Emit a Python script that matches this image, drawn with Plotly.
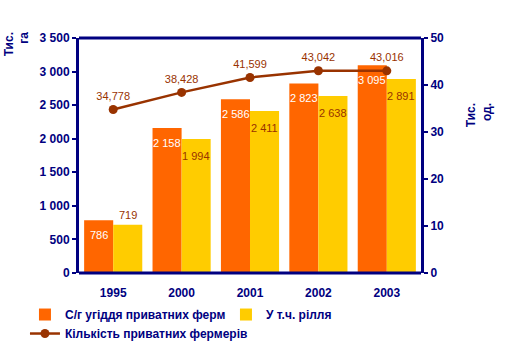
import plotly.graph_objects as go

years = ["1995", "2000", "2001", "2002", "2003"]
land = [786, 2158, 2586, 2823, 3095]
arable = [719, 1994, 2411, 2638, 2891]
farmers = [34.778, 38.428, 41.599, 43.042, 43.016]

navy = "#000080"
orange = "#FF6600"
yellow = "#FFCC00"
brown = "#993300"
font_family = "Arial, Liberation Sans, sans-serif"


def fmt(v):
    return f"{v:,}".replace(",", " ")


fig = go.Figure()
fig.add_trace(go.Bar(
    x=years, y=land, name="С/г угіддя приватних ферм",
    marker=dict(color=orange, line=dict(width=0)),
))
fig.add_trace(go.Bar(
    x=years, y=arable, name="У т.ч. рілля",
    marker=dict(color=yellow, line=dict(width=0)),
))
fig.add_trace(go.Scatter(
    x=years, y=farmers, name="Кількість приватних фермерів", yaxis="y2",
    mode="lines+markers+text",
    line=dict(color=brown, width=2.5),
    marker=dict(color=brown, size=9),
    texttemplate="%{y:.3f}", textposition="top center",
    textfont=dict(color=brown, size=11, family=font_family, weight="normal"),
    cliponaxis=False,
))

annotations = []
for i, v in enumerate(land):
    annotations.append(dict(x=i, y=v, xref="x", yref="y", text=fmt(v), showarrow=False,
                            xshift=-14.5, yshift=-15, yanchor="middle",
                            font=dict(color="white", size=11, weight="normal")))
for i, v in enumerate(arable):
    shift = 10 if v < 1000 else -17
    annotations.append(dict(x=i, y=v, xref="x", yref="y", text=fmt(v), showarrow=False,
                            xshift=14.5, yshift=shift, yanchor="middle",
                            font=dict(color=brown, size=11, weight="normal")))
annotations += [
    dict(text="Тис.<br>га", xref="paper", yref="paper", x=-0.183, y=0.975,
         xanchor="center", yanchor="middle", showarrow=False, textangle=-90, align="right",
         font=dict(size=12, color=navy, weight="bold")),
    dict(text="Тис.<br>од.", xref="paper", yref="paper", x=1.17, y=0.672,
         xanchor="center", yanchor="middle", showarrow=False, textangle=-90, align="right",
         font=dict(size=12, color=navy, weight="bold")),
]

fig.update_layout(
    width=519, height=361,
    margin=dict(l=79, r=98, t=38, b=88, autoexpand=False),
    paper_bgcolor="white", plot_bgcolor="white",
    separators=", ",
    font=dict(family=font_family, size=11, color=navy, weight="bold"),
    barmode="group", bargap=0.15, bargroupgap=0,
    showlegend=True,
    legend=dict(orientation="h", x=-0.158, y=-0.115, xanchor="left", yanchor="top",
                entrywidth=156, entrywidthmode="pixels", tracegroupgap=0,
                font=dict(size=12, color=navy, family=font_family, weight="bold"),
                bgcolor="rgba(0,0,0,0)", itemwidth=30),
    xaxis=dict(type="category", range=[-0.5, len(years) - 0.5], autorange=False,
               showline=False, showgrid=False, ticks="", zeroline=False,
               ticklabelstandoff=11,
               tickfont=dict(size=12, color=navy, weight="bold")),
    yaxis=dict(range=[0, 3500], dtick=500, tickformat=",", showgrid=False, zeroline=False,
               showline=True, linecolor=navy, linewidth=3, ticks="outside",
               tickcolor=navy, ticklen=4, tickwidth=2,
               tickfont=dict(size=12, color=navy, weight="bold")),
    yaxis2=dict(range=[0, 50], dtick=10, overlaying="y", side="right", showgrid=False,
                zeroline=False, showline=True, linecolor=navy, linewidth=3,
                ticks="outside", tickcolor=navy, ticklen=4, tickwidth=2,
                tickfont=dict(size=12, color=navy, weight="bold")),
    shapes=[dict(type="line", xref="paper", yref="paper", x0=0, x1=1, y0=0, y1=0,
                 line=dict(color=navy, width=3)),
            dict(type="line", xref="paper", yref="paper", x0=0, x1=1, y0=1, y1=1,
                 line=dict(color=navy, width=3))],
    annotations=annotations,
)

fig.write_html("out.html", config={"displayModeBar": False},
               post_script="document.body.style.margin='0px';")
